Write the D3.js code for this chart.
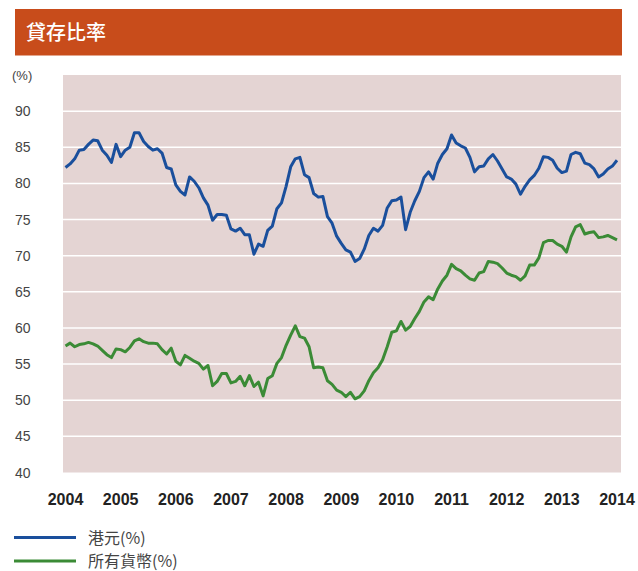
<!DOCTYPE html>
<html>
<head>
<meta charset="utf-8">
<script src="https://cdn.jsdelivr.net/npm/d3@7"></script>
<style>
  body { margin: 0; background: #fff; }
  svg { display: block; }
</style>
</head>
<body>
<div id="chart"></div>
<script>
// monthly values, Jan 2004 .. Jan 2014
const hkd = [
  82.2, 82.7, 83.4, 84.6, 84.7, 85.4, 86.0, 85.9, 84.6, 83.9, 82.9, 85.4,
  83.7, 84.6, 85.0, 87.0, 87.0, 85.8, 85.1, 84.6, 84.8, 84.2, 82.2, 82.0,
  79.8, 78.9, 78.4, 80.9, 80.3, 79.4, 78.0, 77.0, 74.9, 75.7, 75.7, 75.6,
  73.7, 73.4, 73.8, 72.9, 72.9, 70.2, 71.6, 71.3, 73.5, 74.1, 76.5, 77.3,
  79.6, 82.3, 83.4, 83.6, 81.2, 80.8, 78.6, 78.1, 78.2, 75.4, 74.5, 72.7,
  71.7, 70.8, 70.5, 69.2, 69.6, 70.9, 72.8, 73.8, 73.4, 74.2, 76.6, 77.6,
  77.7, 78.1, 73.6, 76.0, 77.6, 78.9, 80.8, 81.6, 80.6, 82.8, 84.0, 84.8,
  86.7, 85.6, 85.2, 84.9, 83.6, 81.6, 82.3, 82.4, 83.4, 84.0, 83.1, 82.0,
  80.9, 80.6, 79.9, 78.5, 79.6, 80.5, 81.1, 82.1, 83.7, 83.6, 83.2, 82.1,
  81.5, 81.7, 84.0, 84.3, 84.1, 82.8, 82.6, 82.0, 80.9, 81.3, 82.0, 82.4,
  83.2
];
const allCcy = [
  57.5, 57.9, 57.4, 57.7, 57.8, 58.0, 57.8, 57.5, 56.9, 56.3, 55.9, 57.1,
  57.0, 56.7, 57.3, 58.2, 58.5, 58.1, 57.9, 57.9, 57.8, 57.0, 56.4, 57.2,
  55.4, 54.9, 56.2, 55.8, 55.4, 55.1, 54.3, 54.8, 52.0, 52.6, 53.7, 53.7,
  52.4, 52.6, 53.3, 52.0, 53.4, 51.9, 52.5, 50.6, 53.0, 53.4, 55.1, 55.9,
  57.6, 59.0, 60.3, 58.8, 58.6, 57.4, 54.5, 54.6, 54.5, 52.7, 52.2, 51.4,
  51.1, 50.5, 51.1, 50.2, 50.5, 51.3, 52.7, 53.8, 54.5, 55.6, 57.4, 59.4,
  59.6, 60.9, 59.7, 60.2, 61.3, 62.3, 63.6, 64.3, 63.9, 65.4, 66.5, 67.3,
  68.8, 68.2, 67.9, 67.3, 66.8, 66.6, 67.6, 67.8, 69.2, 69.1, 68.9, 68.3,
  67.6, 67.3, 67.1, 66.6, 67.2, 68.7, 68.7, 69.7, 71.8, 72.1, 72.1, 71.6,
  71.3, 70.5, 72.6, 74.0, 74.3, 73.0, 73.2, 73.3, 72.5, 72.6, 72.8, 72.5,
  72.2
];
const years = [2004, 2005, 2006, 2007, 2008, 2009, 2010, 2011, 2012, 2013, 2014];
const yTicks = [40, 45, 50, 55, 60, 65, 70, 75, 80, 85, 90];
const seriesNames = ["港元(%)", "所有貨幣(%)"];
const seriesColors = ["#1a4f9c", "#3b8b36"];

const width = 638, height = 571;
const plot = { left: 63, right: 621, top: 75, bottom: 472.5 };

const svg = d3.select("#chart").append("svg")
  .attr("width", width)
  .attr("height", height);

// title bar
svg.append("rect")
  .attr("x", 15).attr("y", 9)
  .attr("width", 607).attr("height", 46.5)
  .attr("fill", "#c84c1b");
svg.append("text")
  .attr("x", 26).attr("y", 40)
  .attr("fill", "#fff")
  .attr("font-family", "'Noto Sans CJK TC', sans-serif")
  .attr("font-size", 20)
  .attr("font-weight", 500)
  .text("貸存比率");

const x = d3.scaleLinear()
  .domain([2004 - 2.5 / 55.12, 2014 + 4 / 55.12])
  .range([plot.left, plot.right]);
const y = d3.scaleLinear()
  .domain([40, 95])
  .range([plot.bottom, plot.top]);

svg.append("rect")
  .attr("x", plot.left).attr("y", plot.top)
  .attr("width", plot.right - plot.left)
  .attr("height", plot.bottom - plot.top)
  .attr("fill", "#e4d4d3");

// gridlines
svg.append("g")
  .selectAll("line")
  .data(yTicks.filter((d) => d > 40))
  .join("line")
  .attr("x1", plot.left).attr("x2", plot.right)
  .attr("y1", (d) => y(d)).attr("y2", (d) => y(d))
  .attr("stroke", "#fff")
  .attr("stroke-width", 1.5);

// y labels
svg.append("g")
  .selectAll("text")
  .data(yTicks)
  .join("text")
  .attr("x", 15)
  .attr("y", (d) => y(d) + 5)
  .attr("fill", "#444")
  .attr("font-family", "'Liberation Sans', Arial, sans-serif")
  .attr("font-size", 14)
  .text((d) => d);
svg.append("text")
  .attr("x", 12).attr("y", 80)
  .attr("fill", "#444")
  .attr("font-family", "'Liberation Sans', Arial, sans-serif")
  .attr("font-size", 13)
  .text("(%)");

// x labels
svg.append("g")
  .selectAll("text")
  .data(years)
  .join("text")
  .attr("x", (d) => x(d))
  .attr("y", 505)
  .attr("text-anchor", "middle")
  .attr("fill", "#222")
  .attr("font-family", "'Liberation Sans', Arial, sans-serif")
  .attr("font-size", 16)
  .attr("font-weight", "bold")
  .text((d) => d);

const line = d3.line()
  .x((d, i) => x(2004 + i / 12))
  .y((d) => y(d));

[hkd, allCcy].forEach((s, k) => {
  svg.append("path")
    .datum(s)
    .attr("d", line)
    .attr("fill", "none")
    .attr("stroke", seriesColors[k])
    .attr("stroke-width", 3)
    .attr("stroke-linejoin", "round");
});

// legend
const legend = svg.append("g")
  .selectAll("g")
  .data(seriesNames)
  .join("g")
  .attr("transform", (d, i) => `translate(14, ${537.5 + i * 23.5})`);
legend.append("line")
  .attr("x1", 0).attr("x2", 62)
  .attr("stroke", (d, i) => seriesColors[i])
  .attr("stroke-width", 3);
legend.append("text")
  .attr("x", 74).attr("y", 6)
  .attr("fill", "#444")
  .attr("font-family", "'Noto Sans CJK TC', sans-serif")
  .attr("font-size", 16)
  .text((d) => d);
</script>
</body>
</html>
